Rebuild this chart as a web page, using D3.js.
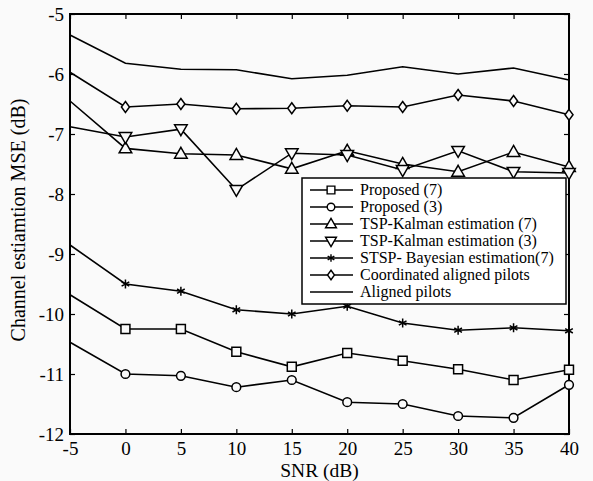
<!DOCTYPE html>
<html>
<head>
<meta charset="utf-8">
<script src="https://cdn.jsdelivr.net/npm/d3@7"></script>
<style>
  body { margin: 0; background: #fafafa; }
  svg { display: block; }
  text { font-family: "Liberation Serif", "Times New Roman", serif; fill: #000; }
</style>
</head>
<body>
<svg id="chart" width="593" height="481"></svg>
<script>
// SNR points (dB)
const snr = [-5, 0, 5, 10, 15, 20, 25, 30, 35, 40]
const xTicks = [-5, 0, 5, 10, 15, 20, 25, 30, 35, 40]
const yTicks = [-12, -11, -10, -9, -8, -7, -6, -5]

// MSE values (dB)
const proposed7 = [-9.68, -10.25, -10.25, -10.63, -10.88, -10.65, -10.78, -10.92, -11.1, -10.93]
const proposed3 = [-10.47, -11.0, -11.03, -11.22, -11.1, -11.47, -11.5, -11.7, -11.73, -11.18]
const kalman7 = [-6.45, -7.24, -7.33, -7.35, -7.58, -7.28, -7.5, -7.63, -7.3, -7.55]
const kalman3 = [-6.88, -7.05, -6.92, -7.93, -7.32, -7.35, -7.6, -7.28, -7.63, -7.65]
const bayes7 = [-8.85, -9.5, -9.62, -9.93, -10.0, -9.87, -10.15, -10.27, -10.23, -10.28]
const coordAligned = [-5.97, -6.55, -6.5, -6.58, -6.57, -6.53, -6.55, -6.35, -6.45, -6.68]
const aligned = [-5.35, -5.82, -5.92, -5.93, -6.08, -6.02, -5.88, -6.0, -5.9, -6.1]

const seriesNames = [
  'Proposed (7)', 'Proposed (3)', 'TSP-Kalman estimation (7)', 'TSP-Kalman estimation (3)',
  'STSP- Bayesian estimation(7)', 'Coordinated aligned pilots', 'Aligned pilots',
]

// marker shapes, drawn through d3.symbol with custom types
const sq = { draw: (c, s) => { const r = Math.sqrt(s) / 2; c.rect(-r, -r, 2 * r, 2 * r) } }
const triUp = { draw: (c, s) => { const h = Math.sqrt(s); c.moveTo(0, -h * 0.62); c.lineTo(h * 0.6, h * 0.42); c.lineTo(-h * 0.6, h * 0.42); c.closePath() } }
const triDown = { draw: (c, s) => { const h = Math.sqrt(s); c.moveTo(0, h * 0.62); c.lineTo(h * 0.6, -h * 0.42); c.lineTo(-h * 0.6, -h * 0.42); c.closePath() } }
const dia = { draw: (c, s) => { const h = Math.sqrt(s) / 2; c.moveTo(0, -h * 1.15); c.lineTo(h * 0.85, 0); c.lineTo(0, h * 1.15); c.lineTo(-h * 0.85, 0); c.closePath() } }

const series = [
  { name: seriesNames[0], values: proposed7, type: sq, size: 80 },
  { name: seriesNames[1], values: proposed3, type: d3.symbolCircle, size: 60 },
  { name: seriesNames[2], values: kalman7, type: triUp, size: 110 },
  { name: seriesNames[3], values: kalman3, type: triDown, size: 110 },
  { name: seriesNames[4], values: bayes7, type: d3.symbolAsterisk, size: 55 },
  { name: seriesNames[5], values: coordAligned, type: dia, size: 90 },
  { name: seriesNames[6], values: aligned, type: null },
]

const margin = { left: 70, top: 14, right: 24, bottom: 47 }
const width = 593, height = 481
const svg = d3.select('#chart')

const x = d3.scaleLinear().domain([-5, 40]).range([margin.left, width - margin.right])
const y = d3.scaleLinear().domain([-12, -5]).range([height - margin.bottom, margin.top])

const tickLen = 5
const fmt = d => String(d) // plain hyphen minus, as in the figure
const axisStyle = g => {
  g.attr('font-family', '"Liberation Serif", serif').attr('font-size', 19)
  g.select('.domain').remove()
  g.selectAll('line').attr('stroke', '#000').attr('stroke-width', 1.2)
}

// ticks point inward on all four sides
svg.append('g')
  .attr('transform', `translate(0,${y(-12)})`)
  .call(d3.axisBottom(x).tickValues(xTicks).tickFormat(fmt).tickSizeInner(-tickLen).tickSizeOuter(0).tickPadding(7.5))
  .call(axisStyle)
svg.append('g')
  .attr('transform', `translate(0,${y(-5)})`)
  .call(d3.axisTop(x).tickValues(xTicks).tickSizeInner(-tickLen).tickSizeOuter(0).tickFormat(''))
  .call(axisStyle)
svg.append('g')
  .attr('transform', `translate(${x(-5)},0)`)
  .call(d3.axisLeft(y).tickValues(yTicks).tickFormat(fmt).tickSizeInner(-tickLen).tickSizeOuter(0).tickPadding(6))
  .call(axisStyle)
svg.append('g')
  .attr('transform', `translate(${x(40)},0)`)
  .call(d3.axisRight(y).tickValues(yTicks).tickSizeInner(-tickLen).tickSizeOuter(0).tickFormat(''))
  .call(axisStyle)

// plot frame
svg.append('rect')
  .attr('x', x(-5)).attr('y', y(-5))
  .attr('width', x(40) - x(-5)).attr('height', y(-12) - y(-5))
  .attr('fill', 'none').attr('stroke', '#000').attr('stroke-width', 2)

const line = d3.line().x((d, i) => x(snr[i])).y(d => y(d))

series.forEach(s => {
  svg.append('path')
    .datum(s.values)
    .attr('d', line)
    .attr('fill', 'none').attr('stroke', '#000').attr('stroke-width', 1.6)
  if (!s.type) return
  const sym = d3.symbol().type(s.type).size(s.size)
  // no marker at the first point (-5 dB)
  svg.append('g').selectAll('path')
    .data(s.values.slice(1))
    .join('path')
    .attr('transform', (d, i) => `translate(${x(snr[i + 1])},${y(d)})`)
    .attr('d', sym)
    .attr('fill', s.type === d3.symbolAsterisk ? 'none' : '#fafafa')
    .attr('stroke', '#000').attr('stroke-width', 1.5)
})

// legend
const lg = { x: 302, y: 178, w: 264, h: 126, row: 17, first: 195 }
const legend = svg.append('g')
legend.append('rect')
  .attr('x', lg.x).attr('y', lg.y).attr('width', lg.w).attr('height', lg.h)
  .attr('fill', '#fff').attr('stroke', '#000').attr('stroke-width', 1.5)
series.forEach((s, i) => {
  const by = lg.first + i * lg.row
  legend.append('line')
    .attr('x1', lg.x + 8).attr('x2', lg.x + 51)
    .attr('y1', by - 5).attr('y2', by - 5)
    .attr('stroke', '#000').attr('stroke-width', 1.5)
  if (s.type) {
    legend.append('path')
      .attr('transform', `translate(${lg.x + 29},${by - 5})`)
      .attr('d', d3.symbol().type(s.type).size(s.size * 0.75))
      .attr('fill', s.type === d3.symbolAsterisk ? 'none' : '#fff')
      .attr('stroke', '#000').attr('stroke-width', 1.4)
  }
  legend.append('text')
    .attr('x', lg.x + 58).attr('y', by)
    .style('font-size', '16px')
    .text(s.name)
})

// axis titles
svg.append('text')
  .attr('x', (x(-5) + x(40)) / 2).attr('y', 477)
  .attr('text-anchor', 'middle')
  .style('font-size', '19.5px')
  .text('SNR (dB)')
svg.append('text')
  .attr('transform', `translate(25,220) rotate(-90)`)
  .attr('text-anchor', 'middle')
  .style('font-size', '20px')
  .text('Channel estiamtion MSE (dB)')
</script>
</body>
</html>
